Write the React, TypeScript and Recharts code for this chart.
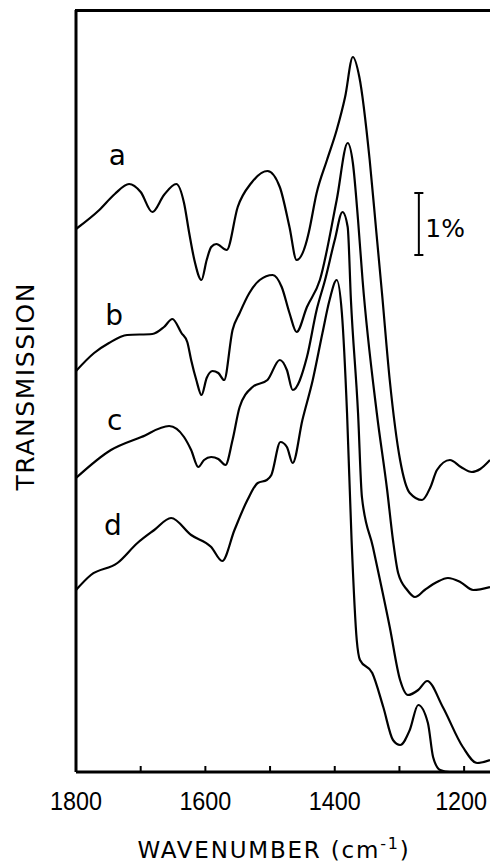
import React from "react";
import { LineChart, Line, XAxis, YAxis, ReferenceLine, ReferenceDot } from "recharts";

// wavenumber (cm-1) and transmission (arbitrary units, curves offset)
const waveA = [1800, 1764, 1740, 1718, 1700, 1682, 1664, 1645, 1633, 1625, 1617, 1606, 1598, 1591, 1583, 1567, 1550, 1529, 1504, 1485, 1470, 1459, 1443, 1440, 1428, 1412, 1397, 1384, 1372, 1362, 1346, 1336, 1327, 1315, 1299, 1284, 1265, 1252, 1242, 1222, 1205, 1188, 1175, 1160];
const transA = [543, 562, 578, 588, 580, 560, 577, 588, 569, 539, 512, 492, 512, 525, 528, 522, 565, 589, 601, 585, 545, 512, 532, 540, 579, 612, 642, 675, 715, 695, 612, 542, 479, 392, 312, 279, 272, 285, 302, 312, 305, 300, 303, 312];

const waveB = [1800, 1772, 1749, 1721, 1682, 1664, 1651, 1637, 1628, 1622, 1614, 1606, 1598, 1589, 1580, 1571, 1558, 1547, 1532, 1516, 1496, 1482, 1470, 1459, 1443, 1423, 1397, 1380, 1372, 1364, 1357, 1335, 1319, 1310, 1302, 1288, 1276, 1261, 1242, 1225, 1206, 1186, 1160];
const transB = [401, 419, 429, 437, 438, 445, 453, 439, 430, 412, 392, 377, 394, 401, 399, 392, 442, 459, 479, 492, 497, 485, 459, 440, 465, 492, 572, 629, 609, 552, 492, 359, 282, 232, 199, 182, 175, 182, 190, 194, 190, 182, 185];

const waveC = [1800, 1746, 1699, 1656, 1633, 1622, 1611, 1602, 1591, 1580, 1569, 1558, 1547, 1527, 1504, 1485, 1474, 1465, 1443, 1428, 1415, 1400, 1388, 1380, 1375, 1364, 1358, 1341, 1315, 1299, 1287, 1271, 1257, 1233, 1202, 1180, 1160];
const transC = [294, 322, 335, 346, 335, 322, 305, 312, 315, 313, 307, 332, 365, 385, 392, 412, 402, 382, 415, 462, 492, 532, 560, 545, 472, 359, 275, 225, 145, 92, 77, 82, 91, 65, 25, 9, 12];

const waveD = [1800, 1777, 1736, 1705, 1679, 1653, 1622, 1591, 1574, 1555, 1535, 1519, 1505, 1498, 1484, 1474, 1465, 1450, 1434, 1419, 1408, 1397, 1389, 1381, 1374, 1366, 1361, 1342, 1325, 1310, 1299, 1284, 1271, 1256, 1248, 1237, 1222, 1160];
const transD = [182, 197, 209, 229, 242, 254, 237, 225, 211, 242, 272, 289, 292, 297, 330, 325, 309, 352, 392, 439, 472, 492, 459, 359, 232, 132, 112, 99, 65, 32, 27, 42, 67, 49, 15, 2, 0, 0];

const xTicks = [1800, 1700, 1600, 1500, 1400, 1300, 1200];
const curveNames = ["a", "b", "c", "d"];
const labelWave = [1736, 1741, 1740, 1743];
const labelTrans = [607, 447, 342, 237];

const toPoints = (w: number[], t: number[]) => w.map((x, i) => ({ wave: x, trans: t[i] }));
const series = [toPoints(waveA, transA), toPoints(waveB, transB), toPoints(waveC, transC), toPoints(waveD, transD)];

const WaveTick = (props: any) => {
    const { x, y, payload } = props;
    if (payload.value % 200 !== 0) return <g />;
    // last label sits against the right edge, as in the original
    const shift = payload.value === 1200 ? -3 : 0;
    return (
        <text x={x + shift} y={y + 44} textAnchor="middle" fontSize={25} fontFamily="Liberation Sans" fill="#000" textLength={52} lengthAdjust="spacingAndGlyphs">
            {payload.value}
        </text>
    );
};

const xTitle = () => (
    <text x={274} y={858} textAnchor="middle" fontSize={23} fontFamily="DejaVu Sans" letterSpacing={1.8} fill="#000">
        WAVENUMBER (cm
        <tspan fontSize={16} dy={-9}>-1</tspan>
        <tspan dy={9}>)</tspan>
    </text>
);

// y title, plus the top edge of the frame drawn from the axis' own box
const yTitle = (props: any) => {
    const vb = props.viewBox || { x: 0, y: 10, width: 76, height: 762 };
    const top = vb.y;
    const left = vb.x + vb.width;
    return (
        <g>
            <path d={`M${left - 1},${top + 0.5}H490`} stroke="#000" strokeWidth={3} fill="none" />
            <text x={0} y={0} transform={`translate(34,${top + vb.height / 2 - 4}) rotate(-90)`} textAnchor="middle" fontSize={25} fontFamily="DejaVu Sans" fill="#000" textLength={207} lengthAdjust="spacing">
                TRANSMISSION
            </text>
        </g>
    );
};

export default function App() {
    return (
        <div style={{ position: "absolute", left: 0, top: 0 }}>
            <LineChart width={490} height={864} margin={{ top: 10, right: 0, bottom: 32, left: 0 }}>
                <XAxis
                    dataKey="wave"
                    type="number"
                    domain={[1160, 1800]}
                    reversed
                    allowDataOverflow
                    ticks={xTicks}
                    interval={0}
                    height={60}
                    tickSize={-6}
                    tickMargin={0}
                    tick={WaveTick}
                    axisLine={{ stroke: "#000", strokeWidth: 3 }}
                    tickLine={{ stroke: "#000", strokeWidth: 2 }}
                    label={{ content: xTitle }}
                />
                <YAxis
                    type="number"
                    domain={[0, 762]}
                    width={76}
                    tick={false}
                    tickLine={false}
                    axisLine={{ stroke: "#000", strokeWidth: 3 }}
                    label={{ content: yTitle }}
                />
                {series.map((d, i) => (
                    <Line
                        key={curveNames[i]}
                        data={d}
                        dataKey="trans"
                        type="monotone"
                        stroke="#000"
                        strokeWidth={2.2}
                        dot={false}
                        isAnimationActive={false}
                    />
                ))}
                {curveNames.map((n, i) => (
                    <ReferenceDot
                        key={"lbl" + n}
                        x={labelWave[i]}
                        y={labelTrans[i]}
                        r={0}
                        shape={(p: any) => (
                            <text x={p.cx} y={p.cy} textAnchor="middle" fontSize={28} fontFamily="DejaVu Sans" fill="#000">
                                {n}
                            </text>
                        )}
                    />
                ))}
                <ReferenceLine segment={[{ x: 1270, y: 517 }, { x: 1270, y: 579 }]} stroke="#000" strokeWidth={2} />
                <ReferenceLine segment={[{ x: 1277, y: 579 }, { x: 1263, y: 579 }]} stroke="#000" strokeWidth={2} />
                <ReferenceLine segment={[{ x: 1277, y: 517 }, { x: 1263, y: 517 }]} stroke="#000" strokeWidth={2} />
                <ReferenceDot
                    x={1260}
                    y={535}
                    r={0}
                    shape={(p: any) => (
                        <text x={p.cx} y={p.cy} textAnchor="start" fontSize={25} fontFamily="DejaVu Sans" fill="#000">
                            1%
                        </text>
                    )}
                />
            </LineChart>
        </div>
    );
}
